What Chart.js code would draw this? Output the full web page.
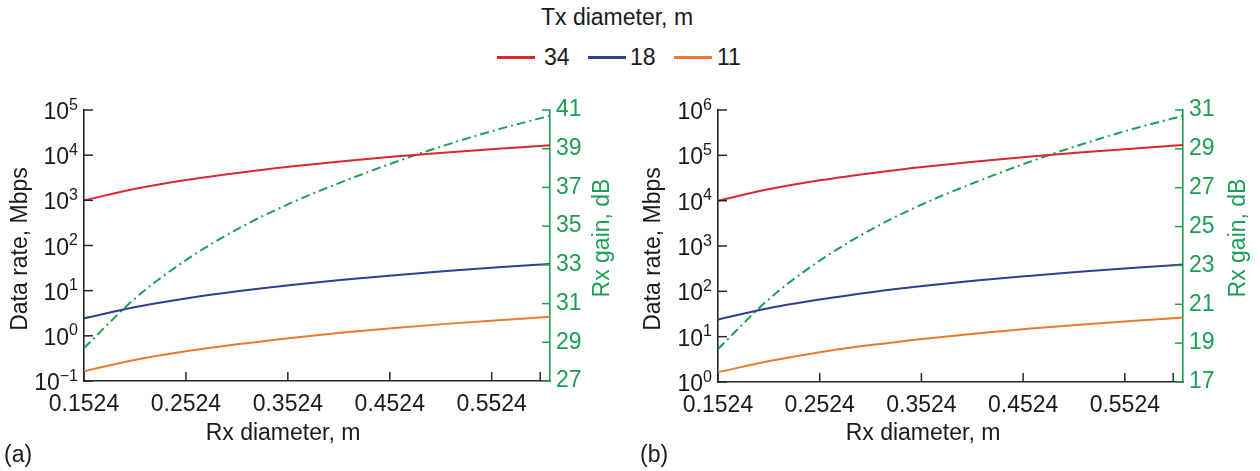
<!DOCTYPE html>
<html>
<head>
<meta charset="utf-8">
<script src="https://cdn.jsdelivr.net/npm/chart.js@4.4.1/dist/chart.umd.min.js"></script>
<style>
  html, body { margin: 0; padding: 0; background: #fff; }
  body { width: 1260px; height: 471px; position: relative; overflow: hidden;
         font-family: "Liberation Sans", Arial, sans-serif; color: #1a1a1a; }
  canvas { position: absolute; top: 0; }
  #chartA { left: 0; }
  #chartB { left: 630px; }
  .lg { position: absolute; font-size: 23px; line-height: 26px; white-space: nowrap; }
  .lg-title { left: 617px; top: 4px; transform: translateX(-50%); }
  .lg-line { position: absolute; top: 56px; width: 38px; height: 3px; }
</style>
</head>
<body>
<div class="lg lg-title">Tx diameter, m</div>
<span class="lg-line" style="left:497px;background:#d9282f"></span>
<span class="lg" style="left:544px;top:44px">34</span>
<span class="lg-line" style="left:588px;background:#2d3f90"></span>
<span class="lg" style="left:630px;top:44px">18</span>
<span class="lg-line" style="left:674px;background:#ea7b2c"></span>
<span class="lg" style="left:717px;top:44px">11</span>

<canvas id="chartA" width="630" height="471"></canvas>
<canvas id="chartB" width="630" height="471"></canvas>

<script>
// Rx diameter samples (m), 6 in to 24 in
const rxDiameter = [0.1524, 0.2032, 0.254, 0.3048, 0.3556, 0.4064, 0.4572, 0.508, 0.5588, 0.6096];
const txDiameter = ['34', '18', '11'];

// (a) data rate, Mbps, per Tx diameter, plus Rx gain in dB
const rateA34 = [1000, 1800, 2850, 4100, 5600, 7350, 9300, 11500, 13900, 16600];
const rateA18 = [2.45, 4.35, 6.8, 9.8, 13.4, 17.5, 22, 27.3, 33, 39];
const rateA11 = [0.165, 0.295, 0.46, 0.66, 0.9, 1.18, 1.49, 1.84, 2.22, 2.64];
const gainA = [28.7, 31.3, 33.3, 34.9, 36.2, 37.3, 38.3, 39.2, 40.0, 40.7];

// (b)
const rateB34 = [10000, 18000, 28500, 41000, 56000, 73500, 93000, 115000, 139000, 168000];
const rateB18 = [24, 43, 67, 97, 132, 173, 218, 270, 327, 390];
const rateB11 = [1.65, 2.9, 4.6, 6.6, 9, 11.8, 14.9, 18.4, 22.2, 26.4];
const gainB = [18.7, 21.3, 23.3, 24.9, 26.2, 27.3, 28.3, 29.2, 30.0, 30.7];

// axis ticks
const xTickValues = [0.1524, 0.2524, 0.3524, 0.4524, 0.5524, 0.6];
const xTickLabels = ['0.1524', '0.2524', '0.3524', '0.4524', '0.5524', ''];
const decadesA = [-1, 0, 1, 2, 3, 4, 5];
const decadesB = [0, 1, 2, 3, 4, 5, 6];
const gainTicksA = [27, 29, 31, 33, 35, 37, 39, 41];
const gainTicksB = [17, 19, 21, 23, 25, 27, 29, 31];

const RED = '#d9282f';
const BLUE = '#2d3f90';
const ORANGE = '#ea7b2c';
const GREEN = '#1e9e55';
const AXIS = '#262626';
const FONT = '"Liberation Sans", Arial, sans-serif';

const toPoints = ys => rxDiameter.map((x, i) => ({ x: x, y: ys[i] }));

function line(ctx, x1, y1, x2, y2) {
  ctx.beginPath();
  ctx.moveTo(x1, y1);
  ctx.lineTo(x2, y2);
  ctx.stroke();
}

// inward ticks, 10^n labels, axis titles and panel letter
const panelDecor = {
  id: 'panelDecor',
  afterDraw(chart, args, o) {
    const ctx = chart.ctx;
    const area = chart.chartArea;
    const { x, y, y2 } = chart.scales;
    ctx.save();
    ctx.lineWidth = 1.5;
    ctx.strokeStyle = AXIS;
    x.ticks.forEach(t => {
      const px = x.getPixelForValue(t.value);
      line(ctx, px, area.bottom, px, area.bottom - 9);
    });
    o.decades.forEach(k => {
      const py = y.getPixelForValue(Math.pow(10, k));
      line(ctx, area.left, py, area.left + 9, py);
    });
    ctx.strokeStyle = GREEN;
    y2.ticks.forEach(t => {
      const py = y2.getPixelForValue(t.value);
      line(ctx, area.right, py, area.right - 8, py);
    });

    // decade labels
    ctx.fillStyle = '#1a1a1a';
    ctx.textBaseline = 'alphabetic';
    o.decades.forEach(k => {
      const py = y.getPixelForValue(Math.pow(10, k));
      const exp = k < 0 ? '\u2212' + (-k) : String(k);
      const right = area.left - 6;
      ctx.font = '16px ' + FONT;
      const ew = ctx.measureText(exp).width;
      ctx.textAlign = 'left';
      ctx.fillText(exp, right - ew, py - 0.5);
      ctx.font = '23px ' + FONT;
      ctx.textAlign = 'right';
      ctx.fillText('10', right - ew, py + 9);
    });

    // titles
    ctx.font = '23px ' + FONT;
    ctx.textAlign = 'center';
    ctx.textBaseline = 'middle';
    ctx.fillText(o.xTitle, o.xTitleX, 434);

    ctx.save();
    ctx.translate(o.leftTitleX, 249);
    ctx.rotate(-Math.PI / 2);
    ctx.fillText(o.leftTitle, 0, 0);
    ctx.restore();

    ctx.save();
    ctx.fillStyle = GREEN;
    ctx.translate(o.rightTitleX, 238);
    ctx.rotate(-Math.PI / 2);
    ctx.fillText(o.rightTitle, 0, 0);
    ctx.restore();

    ctx.textAlign = 'left';
    ctx.fillText(o.letter, o.letterX, 456);
    ctx.restore();
  }
};

function buildPanel(id, p) {
  const tickFont = { family: FONT, size: 23 };
  return new Chart(document.getElementById(id), {
    type: 'line',
    data: {
      datasets: [
        { label: txDiameter[0], data: toPoints(p.r34), borderColor: RED, yAxisID: 'y' },
        { label: txDiameter[1], data: toPoints(p.r18), borderColor: BLUE, yAxisID: 'y' },
        { label: txDiameter[2], data: toPoints(p.r11), borderColor: ORANGE, yAxisID: 'y' },
        { label: 'Rx gain', data: toPoints(p.gain), borderColor: GREEN, borderDash: [9, 4, 2, 4], yAxisID: 'y2' }
      ]
    },
    options: {
      responsive: false,
      animation: false,
      layout: { padding: { top: 110, left: 0, right: 0, bottom: 0 } },
      elements: {
        point: { radius: 0 },
        line: { borderWidth: 2, tension: 0.4, cubicInterpolationMode: 'monotone', fill: false }
      },
      plugins: {
        legend: { display: false },
        tooltip: { enabled: false },
        panelDecor: p.decor
      },
      scales: {
        x: {
          type: 'linear',
          min: 0.1524,
          max: 0.6096,
          afterBuildTicks: s => { s.ticks = xTickValues.map(v => ({ value: v })); },
          afterFit: s => { s.height = p.bottomH; },
          ticks: {
            callback: (v, i) => xTickLabels[i],
            font: tickFont, color: '#1a1a1a', padding: 10,
            maxRotation: 0, autoSkip: false
          },
          grid: { display: false, drawTicks: false },
          border: { color: AXIS, width: 1.6 }
        },
        y: {
          type: 'logarithmic',
          position: 'left',
          min: Math.pow(10, p.decor.decades[0]),
          max: Math.pow(10, p.decor.decades[p.decor.decades.length - 1]),
          afterFit: s => { s.width = p.leftW; },
          ticks: { display: false },
          grid: { display: false, drawTicks: false },
          border: { color: AXIS, width: 1.6 }
        },
        y2: {
          type: 'linear',
          position: 'right',
          min: p.gainTicks[0],
          max: p.gainTicks[p.gainTicks.length - 1],
          afterBuildTicks: s => { s.ticks = p.gainTicks.map(v => ({ value: v })); },
          afterFit: s => { s.width = p.rightW; },
          ticks: { font: tickFont, color: GREEN, padding: 6 },
          grid: { display: false, drawTicks: false },
          border: { color: GREEN, width: 1.6 }
        }
      }
    },
    plugins: [panelDecor]
  });
}

buildPanel('chartA', {
  r34: rateA34, r18: rateA18, r11: rateA11, gain: gainA,
  gainTicks: gainTicksA,
  leftW: 84, rightW: 80, bottomH: 90,
  decor: {
    decades: decadesA,
    xTitle: 'Rx diameter, m', xTitleX: 283,
    leftTitle: 'Data rate, Mbps', leftTitleX: 21,
    rightTitle: 'Rx gain, dB', rightTitleX: 603,
    letter: '(a)', letterX: 4
  }
});

buildPanel('chartB', {
  r34: rateB34, r18: rateB18, r11: rateB11, gain: gainB,
  gainTicks: gainTicksB,
  leftW: 88, rightW: 77, bottomH: 89,
  decor: {
    decades: decadesB,
    xTitle: 'Rx diameter, m', xTitleX: 293,
    leftTitle: 'Data rate, Mbps', leftTitleX: 24,
    rightTitle: 'Rx gain, dB', rightTitleX: 609,
    letter: '(b)', letterX: 10
  }
});
</script>
</body>
</html>
